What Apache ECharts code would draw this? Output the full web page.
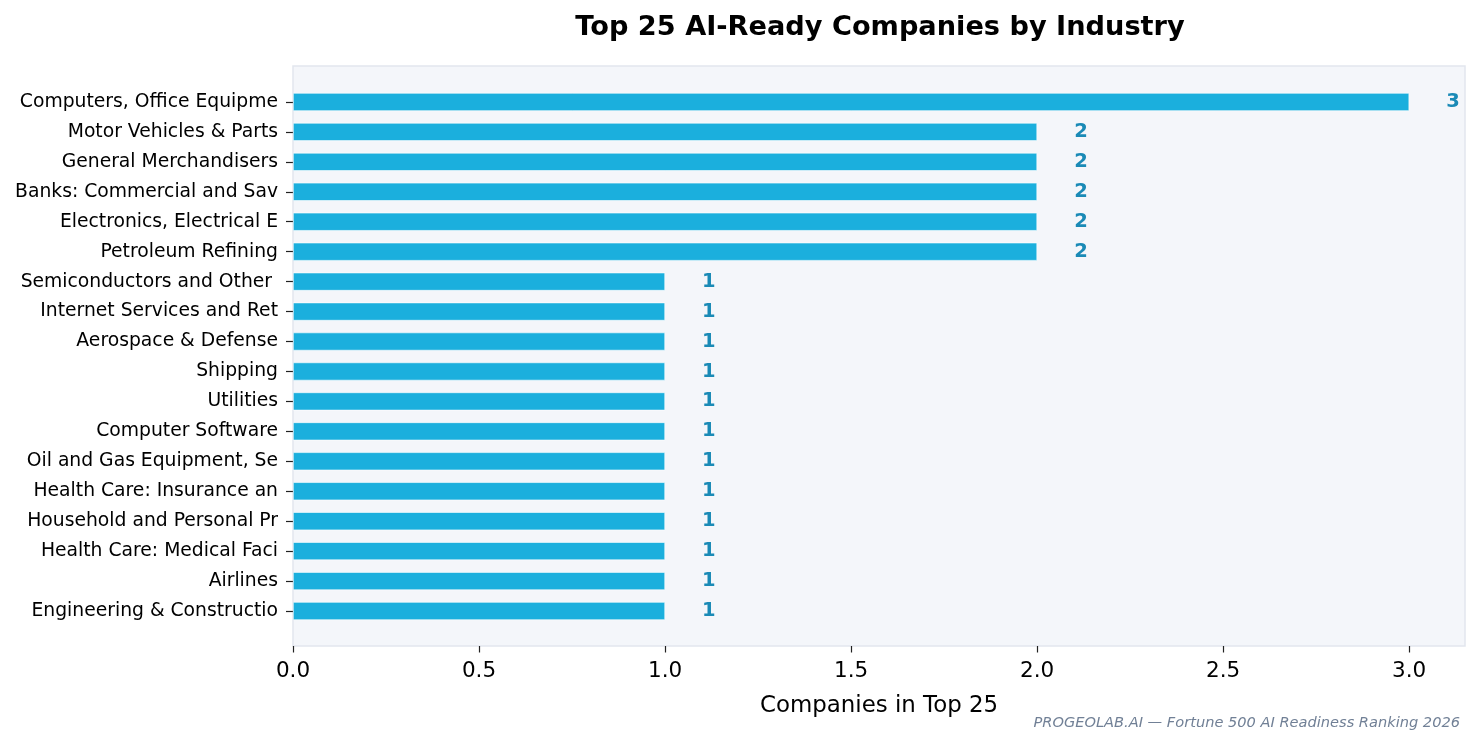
<!DOCTYPE html>
<html>
<head>
<meta charset="utf-8">
<script src="https://cdn.jsdelivr.net/npm/echarts@6/dist/echarts.min.js"></script>
<style>
html,body{margin:0;padding:0;background:#fff;}
#chart{width:1480px;height:746px;}
</style>
</head>
<body>
<div id="chart"></div>
<script>
const categories = [
  "Computers, Office Equipme",
  "Motor Vehicles & Parts",
  "General Merchandisers",
  "Banks: Commercial and Sav",
  "Electronics, Electrical E",
  "Petroleum Refining",
  "Semiconductors and Other ",
  "Internet Services and Ret",
  "Aerospace & Defense",
  "Shipping",
  "Utilities",
  "Computer Software",
  "Oil and Gas Equipment, Se",
  "Health Care: Insurance an",
  "Household and Personal Pr",
  "Health Care: Medical Faci",
  "Airlines",
  "Engineering & Constructio"
];
const companyCounts = [3, 2, 2, 2, 2, 2, 1, 1, 1, 1, 1, 1, 1, 1, 1, 1, 1, 1];
const xTicks = [0, 0.5, 1.0, 1.5, 2.0, 2.5, 3.0];
const titleText = "Top 25 AI-Ready Companies by Industry";
const xAxisTitle = "Companies in Top 25";
const creditText = "PROGEOLAB.AI \u2014 Fortune 500 AI Readiness Ranking 2026";

const FONT = "DejaVu Sans";
const X_MAX = 3.15;

const chart = echarts.init(document.getElementById('chart'), null, {renderer: 'canvas'});
chart.setOption({
  backgroundColor: '#ffffff',
  animation: false,
  textStyle: {fontFamily: FONT},
  title: {
    text: titleText,
    left: 875,
    textAlign: 'center',
    top: 9,
    textStyle: {fontFamily: FONT, fontWeight: 'bold', fontSize: 27.2, color: '#000'}
  },
  graphic: [{
    type: 'text',
    right: 20,
    top: 716,
    style: {
      text: creditText,
      font: 'italic 14.6px "DejaVu Sans"',
      fill: '#718096'
    }
  }],
  grid: [
    {left: 293, right: 15, top: 66, bottom: 100, show: true,
     backgroundColor: '#f4f6fa', borderColor: '#e2e6ee', borderWidth: 1.5, containLabel: false},
    {left: 293, right: 15, top: 87, bottom: 120, containLabel: false}
  ],
  xAxis: [
    {
      gridIndex: 0, type: 'value', min: 0, max: X_MAX,
      name: xAxisTitle, nameLocation: 'middle', nameGap: 49,
      nameTextStyle: {fontFamily: FONT, fontSize: 22.9, color: '#000'},
      axisLine: {show: false},
      splitLine: {show: false},
      axisTick: {show: true, length: 6.5, lineStyle: {color: '#222', width: 1.2}, customValues: xTicks},
      axisLabel: {
        customValues: xTicks, margin: 14,
        fontFamily: FONT, fontSize: 21.5, color: '#000',
        formatter: v => Number(v).toFixed(1)
      }
    },
    {
      gridIndex: 1, type: 'value', min: 0, max: X_MAX, show: false
    }
  ],
  yAxis: [
    {gridIndex: 0, type: 'value', show: false},
    {
      gridIndex: 1, type: 'category', data: categories, inverse: true,
      axisLine: {show: false},
      axisTick: {show: true, alignWithLabel: true, length: 7, lineStyle: {color: '#222', width: 1.2}},
      splitLine: {show: false},
      axisLabel: {margin: 15, fontFamily: FONT, fontSize: 18.75, color: '#000'}
    }
  ],
  series: [{
    type: 'bar',
    xAxisIndex: 1,
    yAxisIndex: 1,
    data: companyCounts,
    barWidth: 18,
    itemStyle: {color: '#1bafdd', borderColor: '#ffffff', borderWidth: 0.6},
    label: {
      show: true, position: 'right', distance: 37,
      fontFamily: FONT, fontWeight: 'bold', fontSize: 19.5, color: '#1a8ab6'
    }
  }]
});
</script>
</body>
</html>
